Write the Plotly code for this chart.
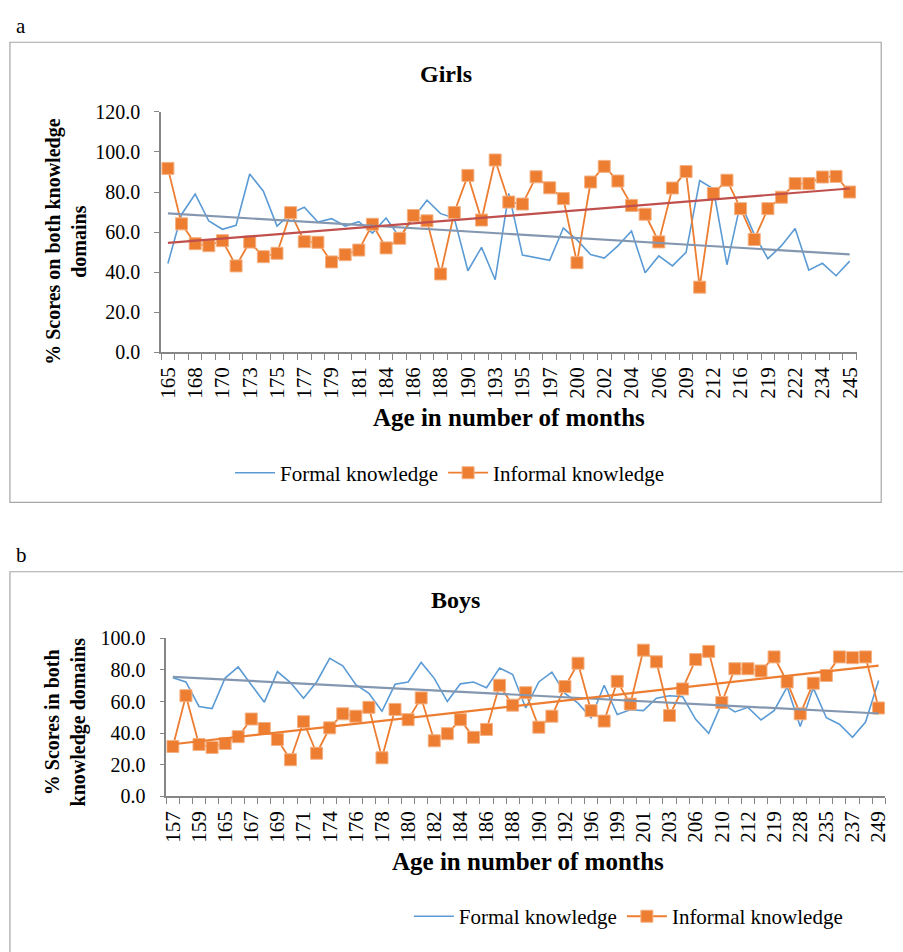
import numpy as np
import plotly.graph_objects as go

W, H = 903, 952

# ---------------- Girls (panel a) ----------------
girls_tick_labels = ["165", "168", "170", "173", "175", "177", "179", "181", "184", "186",
                     "188", "190", "193", "195", "197", "200", "202", "204", "206", "209",
                     "212", "216", "219", "222", "234", "245"]
girls_formal = [44.3, 68.8, 79.0, 65.5, 61.4, 63.4, 89.0, 80.4, 63.0, 69.2,
                72.4, 65.0, 66.7, 63.0, 65.2, 59.5, 67.0, 57.3, 67.0, 75.9,
                69.2, 67.0, 40.7, 52.4, 36.2, 79.3, 48.5, 47.2, 45.9, 62.0,
                56.1, 48.8, 47.0, 53.1, 60.5, 39.7, 48.1, 43.1, 49.9, 85.7,
                81.6, 43.7, 74.6, 58.9, 46.7, 53.2, 61.8, 41.0, 44.4, 38.2,
                45.5]
girls_informal = [91.8, 64.1, 54.2, 53.2, 55.7, 43.1, 55.0, 47.7, 49.4, 69.7,
                  55.2, 54.9, 45.1, 48.7, 51.0, 63.9, 52.1, 56.9, 68.3, 65.6,
                  39.1, 69.8, 88.3, 66.0, 96.0, 75.0, 74.0, 87.6, 82.1, 76.7,
                  44.7, 85.0, 92.8, 85.5, 73.3, 68.9, 55.1, 82.0, 90.2, 32.5,
                  79.3, 85.9, 71.7, 56.3, 71.7, 77.4, 84.2, 84.2, 87.5, 87.8,
                  80.0]

# ---------------- Boys (panel b) ----------------
boys_tick_labels = ["157", "159", "165", "167", "169", "171", "174", "176", "178", "180",
                    "182", "184", "186", "188", "190", "192", "196", "199", "201", "203",
                    "206", "210", "212", "219", "228", "235", "237", "249"]
boys_formal = [75.1, 72.4, 56.9, 55.5, 74.9, 81.9, 70.7, 59.6, 79.0, 72.0,
               62.1, 72.4, 87.4, 82.7, 70.7, 65.2, 53.8, 70.9, 72.4, 84.8,
               74.7, 60.0, 71.2, 72.4, 68.7, 81.3, 77.1, 55.9, 72.4, 78.6,
               65.2, 59.0, 49.7, 70.3, 51.8, 54.8, 54.2, 62.1, 63.7, 63.1,
               48.7, 39.8, 59.0, 53.4, 56.3, 48.3, 54.2, 69.3, 44.1, 68.7,
               49.7, 45.6, 37.3, 47.0, 73.4]
boys_informal = [31.5, 63.7, 32.8, 30.9, 33.4, 37.7, 48.9, 42.9, 35.9, 23.1,
                 47.2, 27.2, 43.3, 52.2, 50.7, 56.3, 24.3, 55.0, 48.5, 62.3,
                 35.1, 39.6, 48.5, 37.3, 42.3, 70.3, 57.7, 65.6, 43.7, 50.7,
                 69.5, 84.3, 54.2, 47.6, 72.8, 58.4, 92.6, 85.2, 51.1, 68.0,
                 86.6, 91.8, 59.4, 80.8, 80.8, 79.4, 88.3, 72.4, 52.2, 71.6,
                 76.5, 88.3, 87.8, 88.3, 55.9]

FONT = "Liberation Serif"
BLUE = "#5B9BD5"
ORANGE = "#ED7D31"
TREND_GRAY = "#8497B0"
TREND_RED = "#C0504D"
AXIS_GRAY = "#868686"


def px_x(p):
    return p / W


def px_y(p):
    return 1 - p / H


fig = go.Figure()


def add_panel(formal, informal, xa, ya, legend, inf_trend_color):
    n = len(formal)
    xs = list(range(n))
    fig.add_trace(go.Scatter(x=xs, y=formal, mode="lines", name="Formal knowledge",
                             line=dict(color=BLUE, width=1.6), xaxis=xa, yaxis=ya,
                             legend=legend))
    fig.add_trace(go.Scatter(x=xs, y=informal, mode="lines+markers", name="Informal knowledge",
                             line=dict(color=ORANGE, width=1.8),
                             marker=dict(symbol="square", size=12, color=ORANGE,
                                         line=dict(color="#F4B183", width=1)),
                             xaxis=xa, yaxis=ya, legend=legend))
    ends = [0, n - 1]
    for series, col in ((formal, TREND_GRAY), (informal, inf_trend_color)):
        k, b = np.polyfit(xs, series, 1)
        fig.add_trace(go.Scatter(x=ends, y=[k * e + b for e in ends], mode="lines",
                                 line=dict(color=col, width=2.2), showlegend=False,
                                 hoverinfo="skip", xaxis=xa, yaxis=ya))


add_panel(girls_formal, girls_informal, "x", "y", "legend", TREND_RED)
add_panel(boys_formal, boys_informal, "x2", "y2", "legend2", ORANGE)


def xaxis_cfg(n, labels, domain):
    return dict(domain=domain, range=[-0.5, n - 0.5], showgrid=False, zeroline=False,
                showline=True, linecolor=AXIS_GRAY, linewidth=1.5,
                tickvals=list(range(0, n, 2)), ticktext=labels, ticks="",
                tickangle=-90, tickfont=dict(family=FONT, size=21, color="black"),
                ticklabelstandoff=5,
                minor=dict(tick0=-0.5, dtick=1, ticks="outside", ticklen=6,
                           tickcolor=AXIS_GRAY, tickwidth=1, showgrid=False),
                fixedrange=True)


def yaxis_cfg(rng, dtick, domain, anchor):
    return dict(domain=domain, range=rng, dtick=dtick, tickformat=".1f", showgrid=False,
                zeroline=False, showline=True, linecolor=AXIS_GRAY, linewidth=1.5,
                ticks="outside", ticklen=5, tickcolor=AXIS_GRAY,
                tickfont=dict(family=FONT, size=20, color="black"),
                ticklabelstandoff=10, anchor=anchor, fixedrange=True)


fig.update_layout(
    width=W, height=H, margin=dict(l=0, r=0, t=0, b=0),
    paper_bgcolor="white", plot_bgcolor="white",
    font=dict(family=FONT, color="black"),
    xaxis=xaxis_cfg(len(girls_formal), girls_tick_labels, [px_x(157), px_x(861)]) | dict(anchor="y"),
    yaxis=yaxis_cfg([0, 120], 20, [px_y(349.3), px_y(103.3)], "x"),
    xaxis2=xaxis_cfg(len(boys_formal), boys_tick_labels, [px_x(162.3), px_x(890)]) | dict(anchor="y2"),
    yaxis2=yaxis_cfg([0, 100], 20, [px_y(803.7), px_y(642.3)], "x2"),
    legend=dict(orientation="h", x=px_x(449), y=px_y(473), xanchor="center", yanchor="middle",
                font=dict(family=FONT, size=21), itemwidth=40, tracegroupgap=0,
                bgcolor="rgba(0,0,0,0)"),
    legend2=dict(orientation="h", x=px_x(630), y=px_y(927), xanchor="center", yanchor="middle",
                 font=dict(family=FONT, size=21), itemwidth=40, tracegroupgap=0,
                 bgcolor="rgba(0,0,0,0)"),
    showlegend=True,
)

shapes = [
    dict(type="rect", xref="paper", yref="paper", x0=px_x(4), x1=px_x(886),
         y0=px_y(503), y1=px_y(32), line=dict(color="#A6A6A6", width=1.2)),
    dict(type="rect", xref="paper", yref="paper", x0=px_x(4), x1=px_x(915),
         y0=px_y(965), y1=px_y(574), line=dict(color="#A6A6A6", width=1.2)),
]
fig.update_layout(shapes=shapes)

ann = [
    dict(text="a", x=px_x(8), y=px_y(15), xanchor="left", yanchor="middle", font=dict(size=21)),
    dict(text="b", x=px_x(8), y=px_y(557), xanchor="left", yanchor="middle", font=dict(size=21)),
    dict(text="<b>Girls</b>", x=px_x(445), y=px_y(64), xanchor="center", yanchor="middle", font=dict(size=24)),
    dict(text="<b>Boys</b>", x=px_x(455), y=px_y(603), xanchor="center", yanchor="middle", font=dict(size=24)),
    dict(text="<b>% Scores on both knowledge<br>domains</b>", x=px_x(60), y=px_y(236),
         xanchor="center", yanchor="middle", textangle=-90, font=dict(size=20)),
    dict(text="<b>% Scores in both<br>knowledge domains</b>", x=px_x(60), y=px_y(728),
         xanchor="center", yanchor="middle", textangle=-90, font=dict(size=20)),
    dict(text="<b>Age in number of months</b>", x=px_x(509), y=px_y(416), xanchor="center",
         yanchor="middle", font=dict(size=25)),
    dict(text="<b>Age in number of months</b>", x=px_x(528), y=px_y(871), xanchor="center",
         yanchor="middle", font=dict(size=25)),
]
for a in ann:
    a.update(xref="paper", yref="paper", showarrow=False)
    a["font"] = dict(family=FONT, color="black", **a["font"])
fig.update_layout(annotations=ann)

page_css = ("document.documentElement.style.margin='0px';"
            "document.body.style.margin='0px';"
            "document.documentElement.style.overflow='hidden';"
            "var gd=document.getElementById('{plot_id}');"
            "gd.style.position='absolute';gd.style.left='0px';gd.style.top='0px';")
fig.write_html("out.html", config={"displayModeBar": False}, post_script=page_css)
